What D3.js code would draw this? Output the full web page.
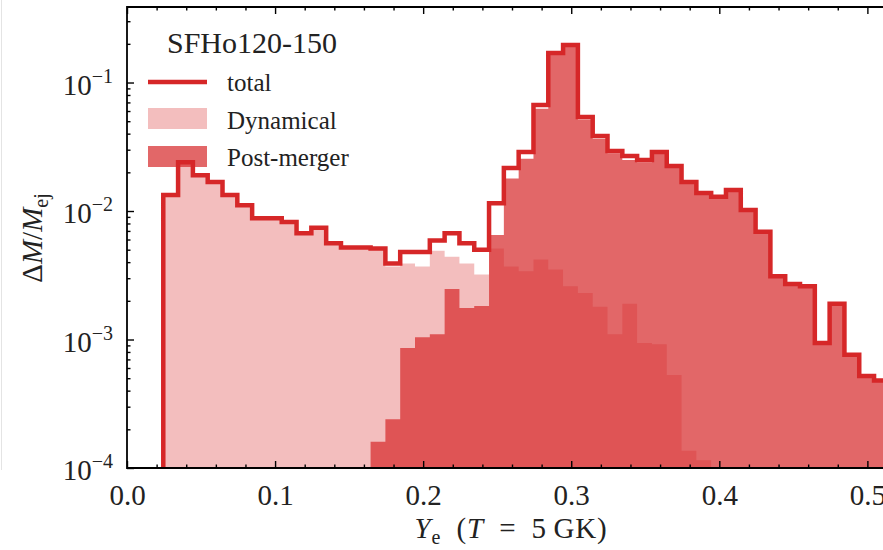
<!DOCTYPE html>
<html>
<head>
<meta charset="utf-8">
<script src="https://cdn.jsdelivr.net/npm/d3@7"></script>
<style>
  body { margin: 0; background: #fff; }
  svg { display: block; font-family: "Liberation Serif", "DejaVu Serif", serif; }
</style>
</head>
<body>
<div id="chart"></div>
<script>
// Bin edges in Y_e (histogram bins of width 0.01)
var binEdges = [0.0245, 0.0345, 0.0445, 0.0545, 0.0645, 0.0745, 0.0845, 0.0945, 0.1045, 0.1145,
  0.1245, 0.1345, 0.1445, 0.1545, 0.1645, 0.1745, 0.1845, 0.1945, 0.2045, 0.2145,
  0.2245, 0.2345, 0.2445, 0.2545, 0.2645, 0.2745, 0.2845, 0.2945, 0.3045, 0.3145,
  0.3245, 0.3345, 0.3445, 0.3545, 0.3645, 0.3745, 0.3845, 0.3945, 0.4045, 0.4145,
  0.4245, 0.4345, 0.4445, 0.4545, 0.4645, 0.4745, 0.4845, 0.4945, 0.5045, 0.5145];

// dM/M_ej per bin
var dynamical = [0.0133, 0.0240, 0.0190, 0.0168, 0.0133, 0.0111, 0.0088, 0.0088, 0.0082, 0.0067,
  0.0074, 0.0056, 0.0052, 0.0052, 0.0050, 0.0037, 0.0039, 0.0037, 0.0049, 0.0044,
  0.0039, 0.0032, 0.0051, 0.0037, 0.0034, 0.0042, 0.0035, 0.0026, 0.0023, 0.0018,
  0.0011, 0.0019, 0.00094, 0.00092, 0.00053, 0.000136, 0.000115, 0, 0, 0,
  0, 0, 0, 0, 0, 0, 0, 0, 0];

var postMerger = [0, 0, 0, 0, 0, 0, 0, 0, 0, 0,
  0, 0, 0, 0, 0.00016, 0.00024, 0.00086, 0.00104, 0.0011, 0.00247,
  0.00176, 0.00182, 0.0065, 0.0179, 0.0255, 0.0626, 0.166, 0.193, 0.0516, 0.0365,
  0.0282, 0.0249, 0.0240, 0.0279, 0.0219, 0.0167, 0.0137, 0.0129, 0.0146, 0.0102,
  0.0069, 0.0031, 0.0027, 0.0026, 0.00094, 0.0019, 0.00076, 0.00052, 0.00048];

var total = [0.0133, 0.0240, 0.0190, 0.0168, 0.0133, 0.0111, 0.0088, 0.0088, 0.0082, 0.0067,
  0.0074, 0.0056, 0.0052, 0.0052, 0.0051, 0.0039, 0.0048, 0.0048, 0.0059, 0.0067,
  0.0056, 0.0050, 0.0115, 0.0216, 0.0288, 0.0668, 0.170, 0.196, 0.0539, 0.0383,
  0.0293, 0.0268, 0.0249, 0.0288, 0.0224, 0.0168, 0.0138, 0.0129, 0.0146, 0.0102,
  0.0069, 0.0031, 0.0027, 0.0026, 0.00094, 0.0019, 0.00076, 0.00052, 0.00048];

var xTicks = [0.0, 0.1, 0.2, 0.3, 0.4, 0.5];
var yTicks = [1e-4, 1e-3, 1e-2, 1e-1];
var yTickExponents = ["\u22124", "\u22123", "\u22122", "\u22121"];
var legendTitle = "SFHo120-150";
var legendLabels = ["total", "Dynamical", "Post-merger"];

var width = 883, height = 550;
var plot = { left: 127, right: 897, top: 7, bottom: 468 };
var red = "#d62728";

var svg = d3.select("#chart").append("svg")
  .attr("width", width)
  .attr("height", height);

// faint crop edge on the left of the original figure
svg.append("line")
  .attr("x1", 1.5).attr("x2", 1.5).attr("y1", 0).attr("y2", 470)
  .attr("stroke", "#e4e4e4").attr("stroke-width", 1);

var xScale = d3.scaleLinear().domain([0, 0.52]).range([plot.left, plot.right]);
var yScale = d3.scaleLog().domain([1e-4, 0.387]).range([plot.bottom, plot.top]);

svg.append("clipPath").attr("id", "plotClip")
  .append("rect")
  .attr("x", plot.left).attr("y", plot.top)
  .attr("width", plot.right - plot.left).attr("height", plot.bottom - plot.top);

var dataLayer = svg.append("g").attr("clip-path", "url(#plotClip)");

function stepPoints(vals) {
  var pts = vals.map(function(v, i) { return { x: binEdges[i], v: v }; });
  pts.push({ x: binEdges[vals.length], v: vals[vals.length - 1] });
  return pts;
}

var area = d3.area()
  .curve(d3.curveStepAfter)
  .x(function(d) { return xScale(d.x); })
  .y0(plot.bottom + 5)
  .y1(function(d) { return d.v > 0 ? yScale(d.v) : plot.bottom + 5; });

dataLayer.append("path")
  .attr("d", area(stepPoints(dynamical)))
  .attr("fill", red).attr("fill-opacity", 0.3);

dataLayer.append("path")
  .attr("d", area(stepPoints(postMerger)))
  .attr("fill", red).attr("fill-opacity", 0.7);

var line = d3.line()
  .curve(d3.curveStepAfter)
  .x(function(d) { return xScale(d.x); })
  .y(function(d) { return yScale(d.v); });

var totalPts = [{ x: binEdges[0], v: 1e-6 }].concat(stepPoints(total));

// legend (drawn under the total line, as in the original)
var legend = svg.append("g").attr("font-size", "25px").attr("fill", "#222");
legend.append("text")
  .attr("x", 252).attr("y", 53)
  .attr("text-anchor", "middle")
  .attr("font-size", "30px")
  .text(legendTitle);
legend.append("line")
  .attr("x1", 148).attr("x2", 207).attr("y1", 82).attr("y2", 82)
  .attr("stroke", red).attr("stroke-width", 4.5);
legend.append("rect")
  .attr("x", 148).attr("y", 108).attr("width", 59).attr("height", 21)
  .attr("fill", red).attr("fill-opacity", 0.3);
legend.append("rect")
  .attr("x", 148).attr("y", 146).attr("width", 59).attr("height", 21)
  .attr("fill", red).attr("fill-opacity", 0.7);
legend.selectAll(".lbl")
  .data(legendLabels)
  .enter()
  .append("text")
  .attr("class", "lbl")
  .attr("x", 227)
  .attr("y", function(d, i) { return 91 + i * 37.5; })
  .text(function(d) { return d; });

dataLayer.append("path")
  .attr("d", line(totalPts))
  .attr("fill", "none")
  .attr("stroke", red)
  .attr("stroke-width", 4.5)
  .attr("stroke-linejoin", "miter");

// Axes: ticks pointing inwards on all sides
var xMinor = d3.range(0, 0.53, 0.02).filter(function(v) {
  return Math.abs(v * 10 - Math.round(v * 10)) > 1e-6;
});
var yMinor = [];
[-4, -3, -2, -1].forEach(function(e) {
  for (var m = 2; m <= 9; m++) {
    var v = m * Math.pow(10, e);
    if (v <= 0.387) yMinor.push(v);
  }
});

function styleAxis(g) {
  g.select(".domain").remove();
  g.selectAll(".tick line").attr("stroke", "#000").attr("stroke-width", 1.4);
}

svg.append("g")
  .attr("transform", "translate(0," + plot.bottom + ")")
  .call(d3.axisBottom(xScale).tickValues(xTicks).tickSizeInner(-7).tickSizeOuter(0)
    .tickPadding(16).tickFormat(d3.format(".1f")))
  .call(styleAxis)
  .call(function(g) {
    g.attr("font-family", null).attr("font-size", null);
    g.selectAll("text").attr("font-size", "29px").attr("fill", "#222");
  });

svg.append("g")
  .attr("transform", "translate(0," + plot.bottom + ")")
  .call(d3.axisBottom(xScale).tickValues(xMinor).tickSizeInner(-3.5).tickSizeOuter(0).tickFormat(""))
  .call(styleAxis);

svg.append("g")
  .attr("transform", "translate(0," + plot.top + ")")
  .call(d3.axisTop(xScale).tickValues(xTicks).tickSizeInner(-7).tickSizeOuter(0).tickFormat(""))
  .call(styleAxis);

svg.append("g")
  .attr("transform", "translate(0," + plot.top + ")")
  .call(d3.axisTop(xScale).tickValues(xMinor).tickSizeInner(-3.5).tickSizeOuter(0).tickFormat(""))
  .call(styleAxis);

svg.append("g")
  .attr("transform", "translate(" + plot.left + ",0)")
  .call(d3.axisLeft(yScale).tickValues(yTicks).tickSizeInner(-7).tickSizeOuter(0).tickFormat(""))
  .call(styleAxis);

svg.append("g")
  .attr("transform", "translate(" + plot.left + ",0)")
  .call(d3.axisLeft(yScale).tickValues(yMinor).tickSizeInner(-3.5).tickSizeOuter(0).tickFormat(""))
  .call(styleAxis);

// y tick labels as 10^n
var yLabels = svg.append("g").attr("fill", "#222");
yTicks.forEach(function(t, i) {
  var txt = yLabels.append("text")
    .attr("x", 113)
    .attr("y", yScale(t) + 12)
    .attr("text-anchor", "end")
    .attr("font-size", "29px");
  txt.append("tspan").text("10");
  txt.append("tspan").attr("dy", -12).attr("font-size", "20px").text(yTickExponents[i]);
});

// spines
var spines = svg.append("g").attr("stroke", "#000").attr("stroke-width", 1.8);
spines.append("line").attr("x1", plot.left).attr("x2", plot.left)
  .attr("y1", plot.top - 0.9).attr("y2", plot.bottom + 0.9);
spines.append("line").attr("x1", plot.left).attr("x2", plot.right)
  .attr("y1", plot.bottom).attr("y2", plot.bottom);
spines.append("line").attr("x1", plot.left).attr("x2", plot.right)
  .attr("y1", plot.top).attr("y2", plot.top);

// axis titles
var xTitle = svg.append("text")
  .attr("x", 511).attr("y", 538)
  .attr("text-anchor", "middle")
  .attr("font-size", "29px")
  .attr("letter-spacing", "0.8px")
  .attr("fill", "#222");
xTitle.append("tspan").attr("font-style", "italic").text("Y");
xTitle.append("tspan").attr("font-size", "20px").attr("dy", 6).text("e");
xTitle.append("tspan").attr("dy", -6).text("\u2002(");
xTitle.append("tspan").attr("font-style", "italic").text("T");
xTitle.append("tspan").text("\u2002=\u20025\u2009GK)");

var yTitle = svg.append("text")
  .attr("transform", "translate(42,238) rotate(-90)")
  .attr("text-anchor", "middle")
  .attr("font-size", "29px")
  .attr("fill", "#222");
yTitle.append("tspan").text("\u0394");
yTitle.append("tspan").attr("font-style", "italic").text("M");
yTitle.append("tspan").text("/");
yTitle.append("tspan").attr("font-style", "italic").text("M");
yTitle.append("tspan").attr("font-size", "20px").attr("dy", 6).text("ej");
</script>
</body>
</html>
